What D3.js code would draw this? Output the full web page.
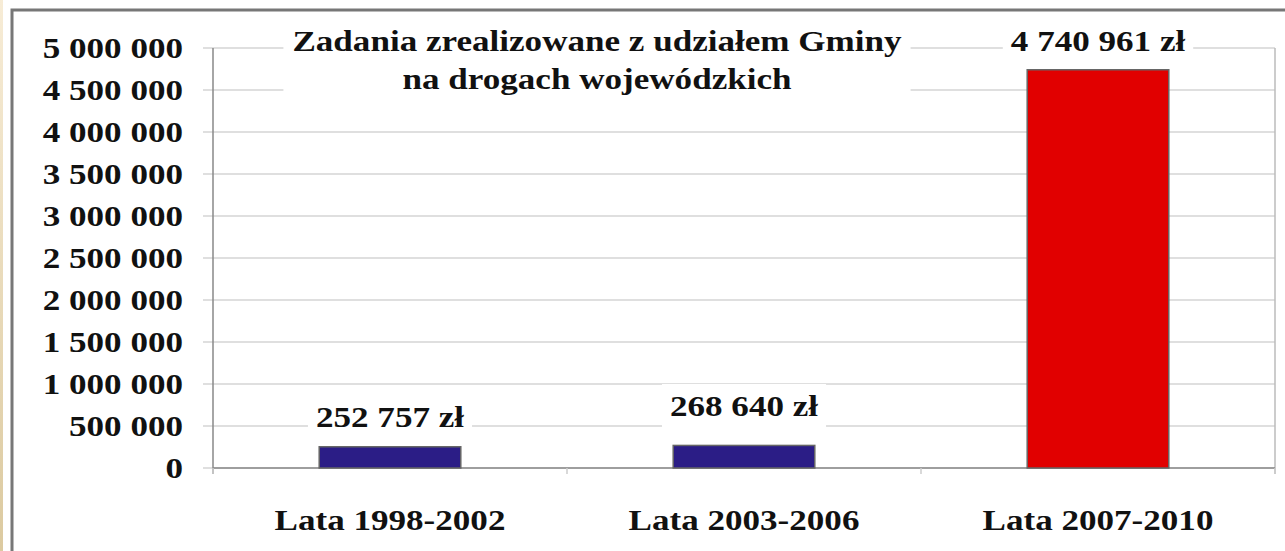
<!DOCTYPE html>
<html>
<head>
  <meta charset="utf-8">
  <title>Zadania zrealizowane z udziałem Gminy</title>
  <script src="https://d3js.org/d3.v7.min.js"></script>
  <style>
    body { margin: 0; background: #fff; }
    text { font-family: "Liberation Serif", "Times New Roman", serif; font-weight: bold; fill: #111; }
  </style>
</head>
<body>
<script>

// data
const categories = ["Lata 1998-2002", "Lata 2003-2006", "Lata 2007-2010"];
const values = [252757, 268640, 4740961];
const valueLabels = ["252 757 zł", "268 640 zł", "4 740 961 zł"];
const barColors = ["#2b1d86", "#2b1d86", "#e10000"];
const yTicks = [0, 500000, 1000000, 1500000, 2000000, 2500000, 3000000, 3500000, 4000000, 4500000, 5000000];
const titleLines = ["Zadania zrealizowane z udziałem Gminy", "na drogach wojewódzkich"];

const W = 1285, H = 551;
const plot = { left: 213, right: 1275, top: 48, bottom: 468 };
const fontSize = 29, stretch = 1.21;   // the source picture is stretched sideways

const svg = d3.select("body").append("svg")
  .attr("width", W).attr("height", H);

// beige strip at the left edge
const grad = svg.append("defs").append("linearGradient").attr("id", "strip")
  .attr("x1", 0).attr("x2", 0).attr("y1", 0).attr("y2", 1);
grad.append("stop").attr("offset", 0).attr("stop-color", "#f7ecd6");
grad.append("stop").attr("offset", 1).attr("stop-color", "#dccaa0");
svg.append("rect").attr("x", 0).attr("y", 0).attr("width", 3).attr("height", H).attr("fill", "url(#strip)");

// outer frame
svg.append("path").attr("d", `M12,${H} V10 H${W}`)
  .attr("fill", "none").attr("stroke", "#777").attr("stroke-width", 3);

const x = d3.scaleBand().domain(categories).range([plot.left, plot.right]).paddingInner(0.6).paddingOuter(0.3);
const band = d3.scaleBand().domain(categories).range([plot.left, plot.right]);
const y = d3.scaleLinear().domain([0, 5000000]).range([plot.bottom, plot.top]);

const fmt = v => d3.format(",")(v).replace(/,/g, " ");

// gridlines
svg.append("g").selectAll("line").data(yTicks).join("line")
  .attr("x1", plot.left - 10).attr("x2", plot.right)
  .attr("y1", d => y(d)).attr("y2", d => y(d))
  .attr("stroke", "#d4d4d4").attr("stroke-width", 1.5);

// right border of plot
svg.append("line").attr("x1", plot.right).attr("x2", plot.right)
  .attr("y1", plot.top).attr("y2", plot.bottom + 6)
  .attr("stroke", "#bbb").attr("stroke-width", 1.5);

// y axis line
svg.append("line").attr("x1", plot.left).attr("x2", plot.left)
  .attr("y1", plot.top).attr("y2", plot.bottom + 6)
  .attr("stroke", "#888").attr("stroke-width", 1.5);

// x axis line and ticks
svg.append("line").attr("x1", plot.left).attr("x2", plot.right)
  .attr("y1", plot.bottom).attr("y2", plot.bottom)
  .attr("stroke", "#888").attr("stroke-width", 1.5);
const tickXs = categories.map(c => band(c)).concat([plot.right]);
svg.append("g").selectAll("line").data(tickXs).join("line")
  .attr("x1", d => d).attr("x2", d => d)
  .attr("y1", plot.bottom).attr("y2", plot.bottom + 6)
  .attr("stroke", "#ccc").attr("stroke-width", 1.5);

function label(g, txt, px, py, anchor) {
  return g.append("text")
    .attr("transform", `translate(${px},${py}) scale(${stretch},1)`)
    .attr("text-anchor", anchor)
    .attr("font-size", fontSize)
    .text(txt);
}

// y tick labels
const yl = svg.append("g");
yTicks.forEach(t => label(yl, fmt(t), 183, y(t) + 10, "end"));

// bars
svg.append("g").selectAll("rect").data(values).join("rect")
  .attr("x", (d, i) => x(categories[i]))
  .attr("width", x.bandwidth())
  .attr("y", d => y(d))
  .attr("height", d => plot.bottom - y(d))
  .attr("fill", (d, i) => barColors[i])
  .attr("stroke", "#666").attr("stroke-width", 1.5);

// labels with white boxes
function boxedLabel(txt, cx, baseline) {
  const g = svg.append("g");
  const bg = g.append("rect").attr("fill", "#fff");
  const t = label(g, txt, cx, baseline, "middle");
  const w = t.node().getComputedTextLength() * stretch;
  bg.attr("x", cx - w / 2 - 8).attr("width", w + 16)
    .attr("y", baseline - 32).attr("height", 46);
  return g;
}

const labelBase = [427, 416, 51];
values.forEach((v, i) => {
  boxedLabel(valueLabels[i], x(categories[i]) + x.bandwidth() / 2, labelBase[i]);
});

// title
const tg = svg.append("g");
const tBg = tg.append("rect").attr("fill", "#fff");
const t1 = label(tg, titleLines[0], 597, 51, "middle");
label(tg, titleLines[1], 597, 89, "middle");
const tw = t1.node().getComputedTextLength() * stretch;
tBg.attr("x", 597 - tw / 2 - 9).attr("width", tw + 18).attr("y", 20).attr("height", 82);

// category labels
const xl = svg.append("g");
categories.forEach(c => label(xl, c, band(c) + band.bandwidth() / 2, 530, "middle"));

</script>
</body>
</html>
